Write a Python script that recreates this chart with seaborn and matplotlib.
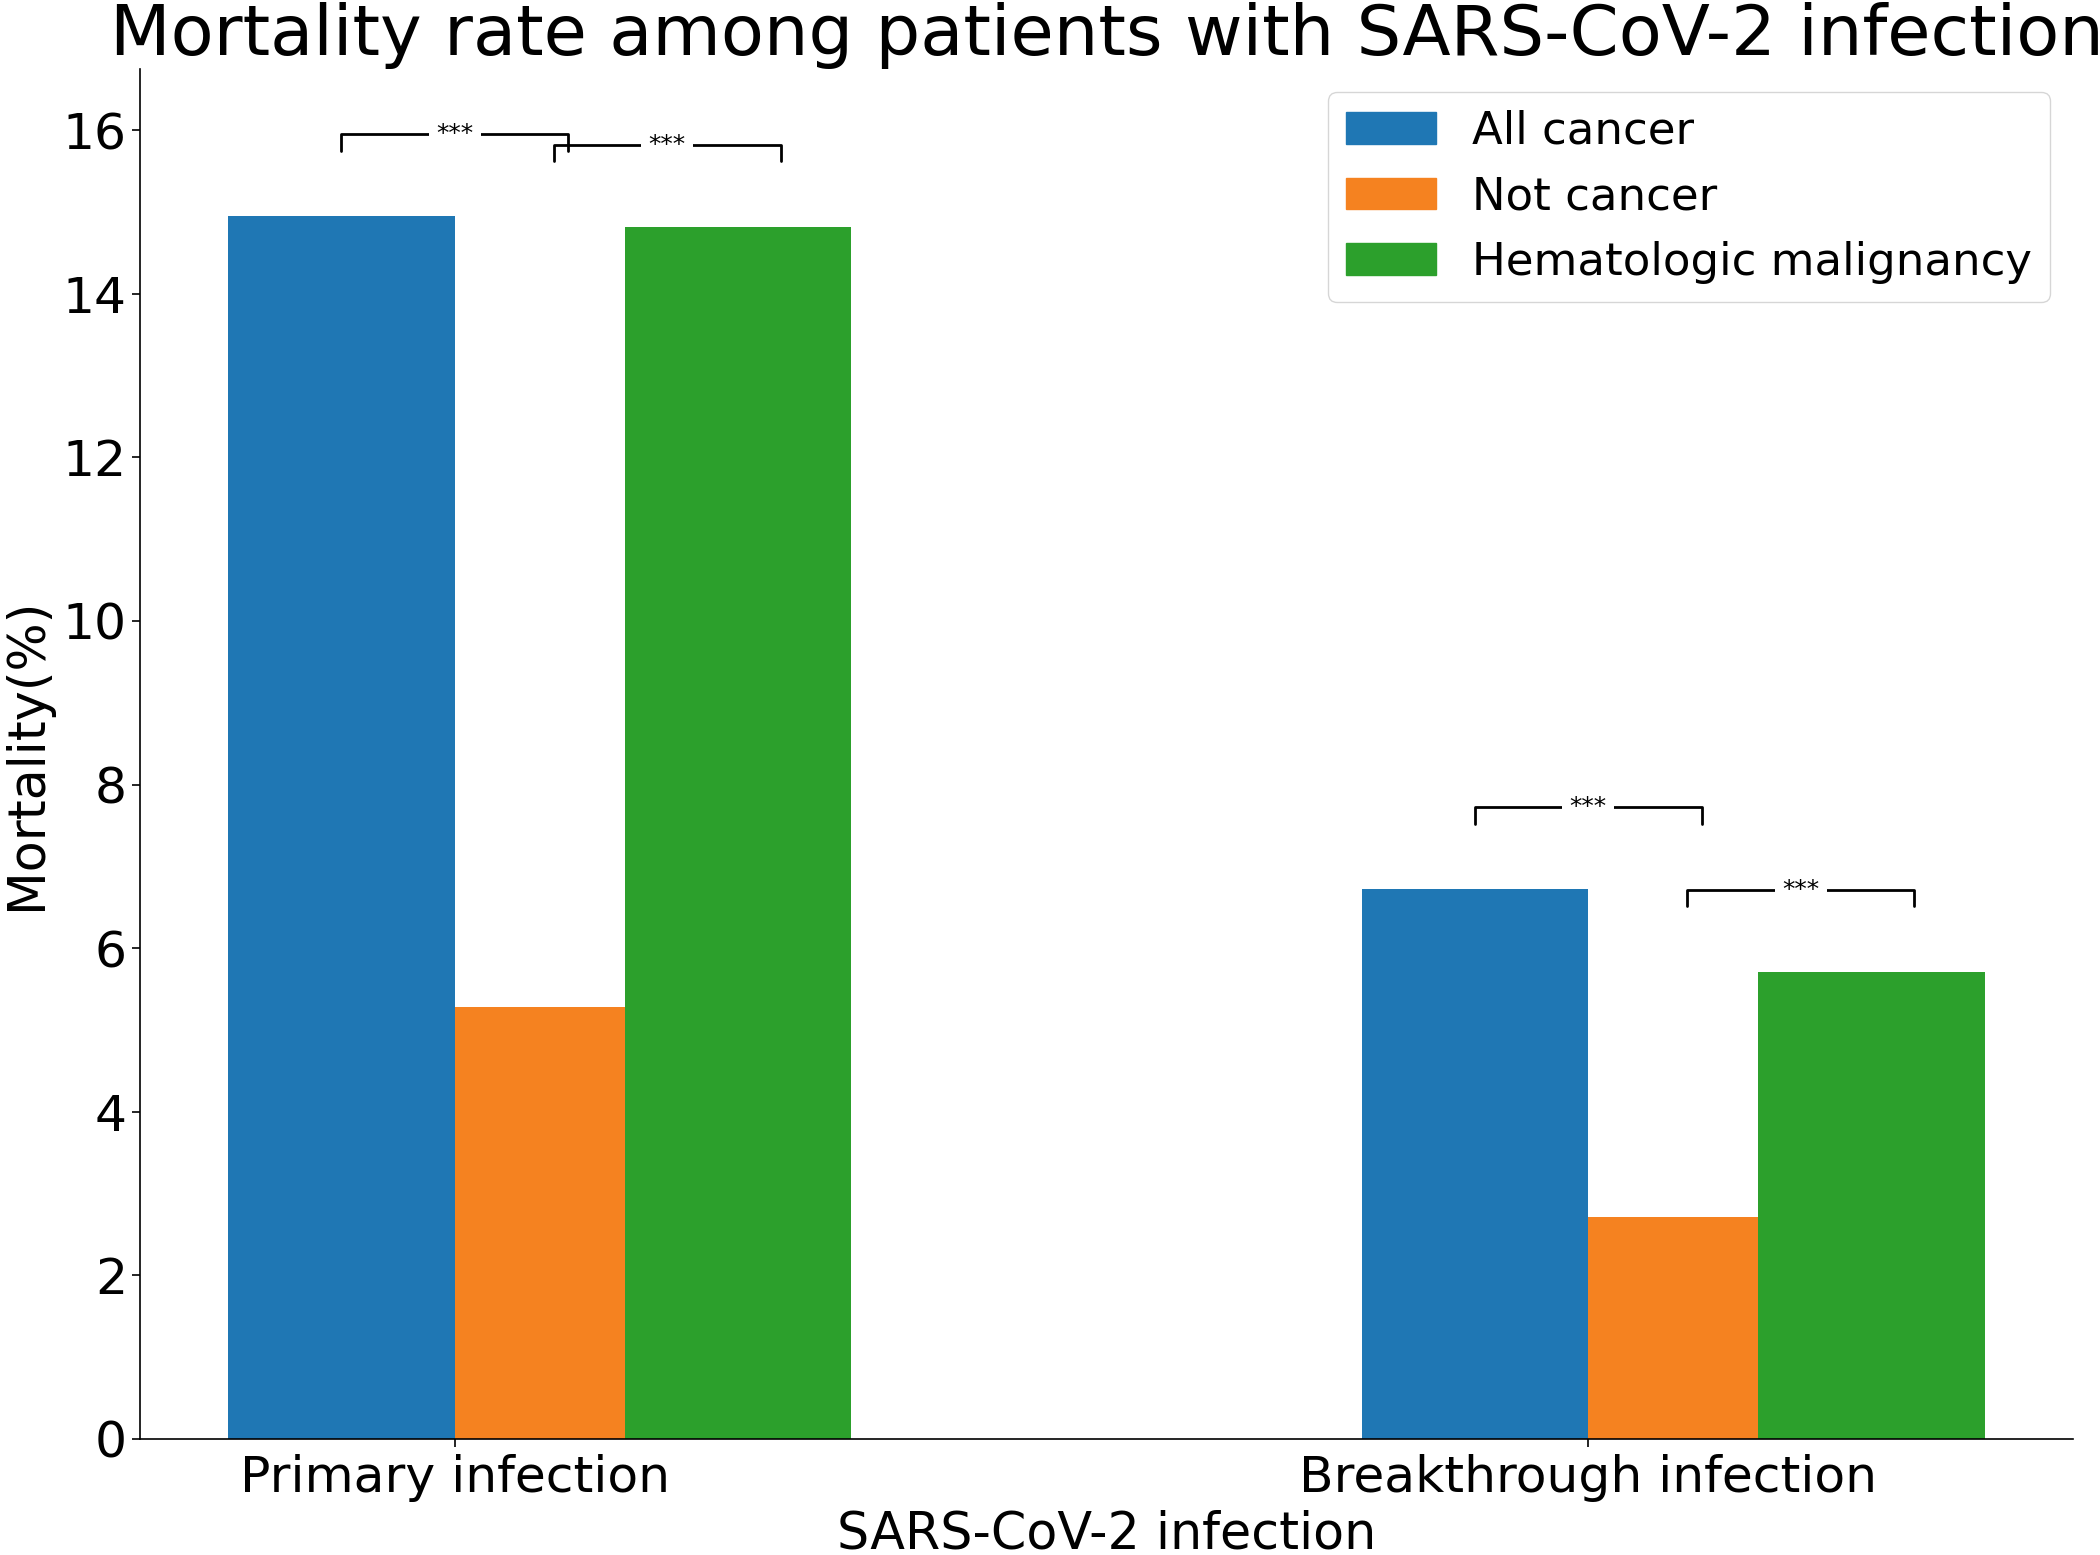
import numpy as np
import matplotlib.pyplot as plt
import seaborn as sns
from matplotlib.patches import Patch

# values
infection_types = ["Primary infection", "Breakthrough infection"]
groups = ["All cancer", "Not cancer", "Hematologic malignancy"]
all_cancer = [14.95, 6.72]
not_cancer = [5.28, 2.71]
hematologic = [14.82, 5.71]
sig_label = "***"

sns.set_style("ticks")
plt.rcParams["font.family"] = ["DejaVu Sans"]
plt.rcParams.update({"text.color": "black", "axes.labelcolor": "black",
                     "xtick.color": "black", "ytick.color": "black",
                     "axes.edgecolor": "black"})
palette = ["#1f77b4", "#f58220", "#2ca02c"]

fig = plt.figure(figsize=(21, 15.55), dpi=100)
ax = fig.add_axes([0.0667, 0.0746, 0.9204, 0.881])

x = np.arange(len(infection_types))
width = 0.2
offsets = [-0.1, 0.1, 0.25]
series = [all_cancer, not_cancer, hematologic]

# draw the three groups; green is drawn last so it overlaps the orange bar
for vals, off, color in zip(series, offsets, palette):
    sns.barplot(x=x + off, y=vals, native_scale=True, width=width,
                color=color, saturation=1, errorbar=None, linewidth=0, ax=ax)

# significance brackets: blue vs orange, orange vs green
bracket_ends = [(-0.1, 0.1), (0.0875, 0.2875)]
bracket_bars = [(all_cancer, not_cancer), (not_cancer, hematologic)]
for i in range(len(x)):
    for (a, b), (s1, s2) in zip(bracket_ends, bracket_bars):
        y = max(s1[i], s2[i]) + 1
        ax.plot([x[i] + a, x[i] + a, x[i] + b, x[i] + b],
                [y - 0.2, y, y, y - 0.2], color="black", lw=2)
        ax.text(x[i] + (a + b) / 2, y, sig_label, ha="center", va="center",
                fontsize=18, zorder=5,
                bbox=dict(boxstyle="square,pad=0.3", fc="white", ec="none"))

ax.set_xticks(x)
ax.set_xticklabels(infection_types)
ax.set_xlabel("SARS-CoV-2 infection", fontsize=36.5, labelpad=5)
ax.set_ylabel("Mortality(%)", fontsize=36.5)
ax.yaxis.set_label_coords(-0.0455, 0.5)
ax.set_title("Mortality rate among patients with SARS-CoV-2 infection", fontsize=50.7)
ax.tick_params(labelsize=36.3, length=6, width=1.2)
ax.tick_params(axis="x", pad=5)
for s in ax.spines.values():
    s.set_linewidth(1.2)

handles = [Patch(color=c) for c in palette]
ax.legend(handles, groups, loc="upper right", fontsize=32.4)
sns.despine(ax=ax)

fig.savefig("out.png", dpi=100)
